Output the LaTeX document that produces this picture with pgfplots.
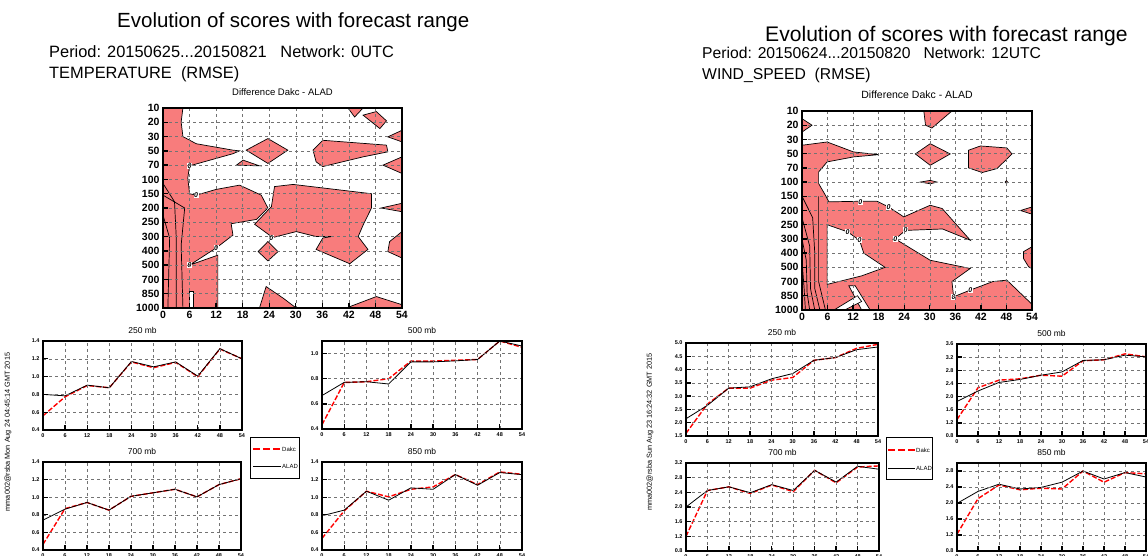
\documentclass[border=0pt]{standalone}
\usepackage{fontspec}
\setmainfont{Liberation Sans}
\usepackage{pgfplots}
\pgfplotsset{compat=1.18}
\definecolor{cred}{RGB}{248,124,124}

\tikzset{zl/.style={fill=white, inner sep=0.6pt, font=\bfseries\itshape\fontsize{7}{7}\selectfont},
  lgtxt/.style={anchor=west, inner sep=0pt, font=\fontsize{6}{7}\selectfont}}
\pgfplotsset{
  base/.style={scale only axis, enlargelimits=false, axis on top,
    grid=major, grid style={black!55, line width=0.5pt, dash pattern=on 3pt off 3pt},
    axis line style={line width=1.6pt},
    tick align=inside, xtick pos=bottom, ytick pos=left,
    major tick length=5pt, every tick/.style={black, line width=1.3pt},
    /pgf/number format/assume math mode=true},
  small/.style={base, xmin=0, xmax=54, xtick={0,6,...,54},
    ticklabel style={font=\bfseries\fontsize{5.5}{6}\selectfont},
    yticklabel style={/pgf/number format/.cd, fixed, fixed zerofill, precision=1},
    title style={font=\fontsize{8.5}{9}\selectfont, inner sep=0pt, yshift=1.5pt}},
  cont/.style={base, xmin=0, xmax=54, xtick={0,6,...,54}, ymin=0, ymax=14,
    y dir=reverse, ytick={0,...,14},
    yticklabels={10,20,30,50,70,100,150,200,250,300,400,500,700,850,1000},
    ticklabel style={font=\bfseries\fontsize{10.5}{11}\selectfont},
    title style={inner sep=0pt, anchor=base, yshift=7pt},
    title={Difference Dakc - ALAD}},
  dakc/.style={red, line width=1.4pt, dash pattern=on 5pt off 2pt},
  alad/.style={black, line width=0.8pt},
  reg/.style={fill=cred, draw=black, line width=0.7pt},
  hole/.style={fill=white, draw=black, line width=0.7pt},
  iso/.style={black, line width=0.7pt},
}

\begin{document}
\begin{tikzpicture}
\useasboundingbox (0pt,0pt) rectangle (1148pt,-556pt);
\clip (0pt,0pt) rectangle (1148pt,-556pt);

% ---------------- left panel: temperature ----------------
\node[anchor=base west, inner sep=0pt, font=\fontsize{20.5}{24}\selectfont] at (117pt,-28pt) {Evolution of scores with forecast range};
\node[anchor=base west, inner sep=0pt, font=\fontsize{16.4}{20}\selectfont] at (49pt,-58pt) {Period: 20150625...20150821~~~Network: 0UTC};
\node[anchor=base west, inner sep=0pt, font=\fontsize{16.4}{20}\selectfont] at (49pt,-79pt) {TEMPERATURE~~(RMSE)};

\begin{axis}[cont, at={(163pt,-108pt)}, anchor=north west, width=239pt, height=200pt,
  title style={font=\fontsize{9.5}{10}\selectfont}]
\addplot[reg] coordinates {(0,0)(4.5,0)(4.1,0.98)(4.5,2.0)(7.5,2.5)(15.8,2.95)(17.3,3.0)(15.8,3.2)(6.0,4.05)(5.6,4.9)(6.0,6.0)(7.5,6.1)(12.0,5.7)(17.3,5.4)(22.2,6.1)(23.7,7.0)(21.1,7.8)(15.4,8.1)(15.8,8.9)(12.0,9.8)(6.0,11.0)(12.4,10.3)(12.4,14)(0,14)} -- cycle;
\addplot[hole] coordinates {(6.0,12.8)(6.8,12.8)(6.8,14)(6.0,14)} -- cycle;
\addplot[reg] coordinates {(25.2,5.5)(29.4,5.35)(47.1,6.0)(47.1,7.0)(45.2,8.2)(44.1,9.0)(46.3,9.9)(42.2,10.9)(34.6,9.9)(36.1,9.1)(38.0,9.0)(34.6,9.0)(30.1,8.65)(24.8,9.07)(20.7,8.14)(24.5,6.9)} -- cycle;
\addplot[reg] coordinates {(18.8,2.95)(23.7,2.14)(28.2,2.95)(23.7,3.88)} -- cycle;
\addplot[reg] coordinates {(33.9,2.95)(36.1,2.26)(50.5,2.6)(50.8,3.07)(45.2,3.42)(36.1,4.1)(34.6,3.77)} -- cycle;
\addplot[reg] coordinates {(41.8,0)(45.2,0)(43.3,0.63)} -- cycle;
\addplot[reg] coordinates {(45.2,0.5)(48.2,0.25)(50.5,0.9)(49.0,1.44)} -- cycle;
\addplot[reg] coordinates {(54,1.56)(50.8,2.02)(54,2.37)} -- cycle;
\addplot[reg] coordinates {(54,3.42)(49.7,4.0)(54,4.58)} -- cycle;
\addplot[reg] coordinates {(16.6,4.0)(18.1,3.65)(21.8,4.05)} -- cycle;
\addplot[reg] coordinates {(54,6.67)(49.3,7.0)(54,7.26)} -- cycle;
\addplot[reg] coordinates {(54,8.65)(51.2,9.35)(50.8,10.05)(54,10.5)} -- cycle;
\addplot[reg] coordinates {(21.5,10.05)(23.7,9.35)(26.0,10.05)(23.7,10.7)} -- cycle;
\addplot[reg] coordinates {(21.8,14)(23.3,12.5)(27.1,13.3)(30.1,14)} -- cycle;
\addplot[reg] coordinates {(41.4,14)(48.2,13.2)(54,13.77)(54,14)} -- cycle;
\addplot[iso] coordinates {(0,5.28)(2.6,6.56)(3.0,9.1)(3.0,14)};
\addplot[iso] coordinates {(0,6.1)(4.9,7.0)(4.1,9.6)(4.5,14)};
\addplot[iso] coordinates {(0,7.5)(1.5,9.1)(1.1,14)};
\node[zl] at (axis cs:6.0,4.05) {0};
\node[zl] at (axis cs:7.5,6.1) {0};
\node[zl] at (axis cs:12.0,9.8) {0};
\node[zl] at (axis cs:6.0,11.0) {0};
\node[zl] at (axis cs:24.5,9.1) {0};
\end{axis}

\begin{axis}[small, at={(43pt,-341pt)}, anchor=north west, width=199pt, height=89pt,
  ymin=0.4, ymax=1.4, ytick={0.4,0.6,...,1.41}, title={250 mb}]
\addplot[dakc] coordinates {(0,0.56)(6,0.773)(12,0.90)(18,0.875)(24,1.165)(30,1.10)(36,1.16)(42,1.0)(48,1.31)(54,1.20)};
\addplot[alad] coordinates {(0,0.80)(6,0.784)(12,0.904)(18,0.874)(24,1.17)(30,1.11)(36,1.165)(42,1.005)(48,1.314)(54,1.20)};
\end{axis}

\begin{axis}[small, at={(322pt,-341pt)}, anchor=north west, width=200pt, height=88pt,
  ymin=0.4, ymax=1.1, ytick={0.4,0.6,0.8,1.0}, title={500 mb}]
\addplot[dakc] coordinates {(0,0.434)(6,0.77)(12,0.776)(18,0.80)(24,0.94)(30,0.94)(36,0.947)(42,0.953)(48,1.10)(54,1.05)};
\addplot[alad] coordinates {(0,0.666)(6,0.771)(12,0.776)(18,0.758)(24,0.934)(30,0.934)(36,0.942)(42,0.953)(48,1.10)(54,1.06)};
\end{axis}

\begin{axis}[small, at={(43pt,-462pt)}, anchor=north west, width=198pt, height=88pt,
  ymin=0.4, ymax=1.4, ytick={0.4,0.6,...,1.41}, title={700 mb}]
\addplot[dakc] coordinates {(0,0.464)(6,0.87)(12,0.94)(18,0.853)(24,1.01)(30,1.05)(36,1.09)(42,1.004)(48,1.143)(54,1.21)};
\addplot[alad] coordinates {(0,0.74)(6,0.864)(12,0.94)(18,0.853)(24,1.01)(30,1.05)(36,1.09)(42,1.004)(48,1.143)(54,1.21)};
\end{axis}

\begin{axis}[small, at={(322pt,-462pt)}, anchor=north west, width=200pt, height=88pt,
  ymin=0.4, ymax=1.4, ytick={0.4,0.6,...,1.41}, title={850 mb}]
\addplot[dakc] coordinates {(0,0.532)(6,0.845)(12,1.068)(18,1.004)(24,1.09)(30,1.117)(36,1.257)(42,1.143)(48,1.287)(54,1.26)};
\addplot[alad] coordinates {(0,0.789)(6,0.853)(12,1.068)(18,0.966)(24,1.106)(30,1.09)(36,1.257)(42,1.136)(48,1.28)(54,1.257)};
\end{axis}

% legend (left)
\draw[black, line width=0.8pt, fill=white] (250pt,-437pt) rectangle (299pt,-478pt);
\draw[red, line width=1.6pt, dash pattern=on 7pt off 3pt] (253pt,-449pt) -- (281pt,-449pt);
\node[lgtxt] at (282pt,-449pt) {Dakc};
\draw[black, line width=0.8pt] (253pt,-466pt) -- (281pt,-466pt);
\node[lgtxt] at (282pt,-466pt) {ALAD};

\node[rotate=90, font=\fontsize{7.3}{8}\selectfont] at (8pt,-432pt) {mma002@rsba Mon Aug 24 04:45:14 GMT 2015};

% ---------------- right panel: wind speed ----------------
\node[anchor=base west, inner sep=0pt, font=\fontsize{21.1}{24}\selectfont] at (765pt,-42pt) {Evolution of scores with forecast range};
\node[anchor=base west, inner sep=0pt, font=\fontsize{15.7}{19}\selectfont] at (702pt,-59pt) {Period: 20150624...20150820~~~Network: 12UTC};
\node[anchor=base west, inner sep=0pt, font=\fontsize{15.7}{19}\selectfont] at (702pt,-80pt) {WIND\_SPEED~~(RMSE)};

\begin{axis}[cont, at={(802pt,-111pt)}, anchor=north west, width=230pt, height=199pt,
  title style={font=\fontsize{10.5}{11}\selectfont}]
\addplot[reg] coordinates {(0,2.41)(5.9,2.18)(12.1,2.88)(18.0,3.07)(12.1,3.23)(5.9,3.58)(3.9,4.29)(3.9,5.1)(5.5,5.93)(6.3,6.39)(13.7,6.35)(17.6,6.35)(20.3,6.74)(23.9,7.45)(30.1,6.63)(32.9,6.86)(39.5,9.09)(33.0,8.3)(24.3,8.4)(21.9,9.0)(30.1,10.5)(39.5,11.08)(35.2,12.0)(35.6,13.07)(39.5,12.6)(44.8,12.0)(48.1,11.9)(54,13.6)(54,14)(0,14)} -- cycle;
\addplot[hole] coordinates {(5.9,8.0)(10.7,8.5)(13.5,9.1)(14.5,10.0)(19.5,11.0)(14.0,11.6)(5.9,12.2)} -- cycle;
\addplot[hole] coordinates {(11.0,12.3)(12.5,12.3)(16.0,14)(14.0,14)} -- cycle;
\addplot[hole] coordinates {(13.0,13.0)(14.0,13.4)(10.0,14)(7.5,14)} -- cycle;
\addplot[reg] coordinates {(0,0.54)(2.35,1.0)(0,1.48)} -- cycle;
\addplot[reg] coordinates {(28.6,0)(35.2,0)(30.5,1.2)(29.0,1.0)} -- cycle;
\addplot[reg] coordinates {(26.6,3.02)(30.1,2.3)(34.8,3.02)(30.1,3.82)} -- cycle;
\addplot[reg] coordinates {(39.1,2.76)(41.9,2.46)(48.1,2.6)(49.3,3.02)(45.8,4.05)(42.3,4.33)(39.1,4.0)} -- cycle;
\addplot[reg] coordinates {(27.8,5.0)(30.1,4.88)(31.7,5.0)(30.1,5.12)} -- cycle;
\addplot[reg] coordinates {(47.7,5.0)(48.0,4.9)(48.3,5.0)(48.0,5.1)} -- cycle;
\addplot[reg] coordinates {(54,6.75)(51.3,7.0)(54,7.26)} -- cycle;
\addplot[reg] coordinates {(54,9.55)(52,9.9)(52,10.37)(53.2,10.96)(54,11.08)} -- cycle;
\addplot[iso] coordinates {(3.9,6.0)(3.9,12.0)(5.5,14)};
\addplot[iso] coordinates {(0,6.0)(2.5,7.5)(3.0,10)(3.0,12.5)(4.2,14)};
\addplot[iso] coordinates {(0,7.5)(1.8,9.5)(2.0,12.5)(3.0,14)};
\addplot[iso] coordinates {(0,9.0)(1.0,10.5)(1.2,12.8)(1.8,14)};
\addplot[iso] coordinates {(0,10.5)(0.5,12.5)(0.8,14)};
\node[zl] at (axis cs:13.7,6.4) {0};
\node[zl] at (axis cs:20.3,6.74) {0};
\node[zl] at (axis cs:10.7,8.5) {0};
\node[zl] at (axis cs:13.5,9.1) {0};
\node[zl] at (axis cs:21.9,9.0) {0};
\node[zl] at (axis cs:24.3,8.4) {0};
\node[zl] at (axis cs:35.6,13.07) {0};
\node[zl] at (axis cs:39.5,12.6) {0};
\end{axis}

\begin{axis}[small, at={(686pt,-343pt)}, anchor=north west, width=192pt, height=93pt,
  ymin=1.5, ymax=5.0, ytick={1.5,2.0,...,5.01}, title={250 mb}]
\addplot[dakc] coordinates {(0,1.6)(6,2.7)(12,3.3)(18,3.3)(24,3.6)(30,3.7)(36,4.35)(42,4.45)(48,4.8)(54,4.95)};
\addplot[alad] coordinates {(0,2.15)(6,2.65)(12,3.3)(18,3.35)(24,3.65)(30,3.85)(36,4.35)(42,4.45)(48,4.75)(54,4.85)};
\end{axis}

\begin{axis}[small, at={(957pt,-344pt)}, anchor=north west, width=189pt, height=92pt,
  ymin=0.8, ymax=3.6, ytick={0.8,1.2,...,3.61}, title={500 mb}]
\addplot[dakc] coordinates {(0,1.30)(6,2.27)(12,2.5)(18,2.54)(24,2.65)(30,2.62)(36,3.09)(42,3.12)(48,3.30)(54,3.21)};
\addplot[alad] coordinates {(0,1.85)(6,2.17)(12,2.43)(18,2.52)(24,2.65)(30,2.75)(36,3.10)(42,3.12)(48,3.26)(54,3.21)};
\end{axis}

\begin{axis}[small, at={(686pt,-463pt)}, anchor=north west, width=193pt, height=88pt,
  ymin=0.8, ymax=3.2, ytick={0.8,1.2,...,3.21}, title={700 mb}]
\addplot[dakc] coordinates {(0,1.2)(6,2.45)(12,2.55)(18,2.37)(24,2.60)(30,2.42)(36,3.0)(42,2.66)(48,3.09)(54,3.12)};
\addplot[alad] coordinates {(0,2.0)(6,2.45)(12,2.55)(18,2.39)(24,2.61)(30,2.45)(36,3.0)(42,2.68)(48,3.11)(54,3.03)};
\end{axis}

\begin{axis}[small, at={(957pt,-463pt)}, anchor=north west, width=189pt, height=88pt,
  ymin=0.8, ymax=3.0, ytick={0.8,1.2,...,3.01}, title={850 mb}]
\addplot[dakc] coordinates {(0,1.22)(6,2.11)(12,2.45)(18,2.33)(24,2.37)(30,2.35)(36,2.8)(42,2.52)(48,2.76)(54,2.73)};
\addplot[alad] coordinates {(0,1.99)(6,2.29)(12,2.47)(18,2.35)(24,2.39)(30,2.52)(36,2.8)(42,2.6)(48,2.76)(54,2.65)};
\end{axis}

% legend (right)
\draw[black, line width=0.8pt, fill=white] (886pt,-437pt) rectangle (932pt,-479pt);
\draw[red, line width=1.6pt, dash pattern=on 7pt off 3pt] (888pt,-450pt) -- (915pt,-450pt);
\node[lgtxt] at (916pt,-450pt) {Dakc};
\draw[black, line width=0.8pt] (888pt,-468pt) -- (915pt,-468pt);
\node[lgtxt] at (916pt,-468pt) {ALAD};

\node[rotate=90, font=\fontsize{7.3}{8}\selectfont] at (650pt,-432pt) {mma002@rsba Sun Aug 23 16:24:32 GMT 2015};
\end{tikzpicture}
\end{document}
